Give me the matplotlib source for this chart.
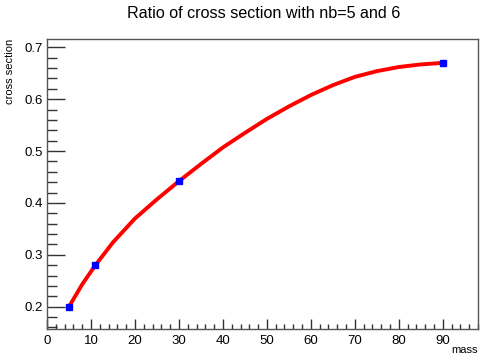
import matplotlib
matplotlib.use("Agg")
import matplotlib.pyplot as plt
from matplotlib.ticker import MultipleLocator

plt.rcParams['font.family'] = ['Liberation Sans', 'DejaVu Sans']

# Measured ratio points
mass_pts = [5, 11, 30, 90]
ratio_pts = [0.200, 0.280, 0.442, 0.670]

# Smooth curve through the measurements
mass_curve = [5, 8, 11, 15, 20, 25, 30, 35, 40, 45, 50, 55, 60, 65, 70, 75, 80, 85, 90]
ratio_curve = [0.200, 0.243, 0.280, 0.324, 0.370, 0.407, 0.442, 0.475, 0.507,
               0.535, 0.562, 0.586, 0.608, 0.627, 0.643, 0.654, 0.662, 0.667, 0.670]

fig = plt.figure(figsize=(4.81, 3.56), dpi=100)
ax = fig.add_axes([47/481, 27/356, 431/481, 290/356])

ax.plot(mass_curve, ratio_curve, color='#ff0000', lw=2.8, solid_capstyle='round', zorder=2)
ax.plot(mass_pts, ratio_pts, 's', color='#0000ff', ms=5, zorder=3, linestyle='none')

ax.set_xlim(0, 98)
ax.set_ylim(0.157, 0.716)

ax.xaxis.set_major_locator(MultipleLocator(10))
ax.xaxis.set_minor_locator(MultipleLocator(2))
ax.yaxis.set_major_locator(MultipleLocator(0.1))
ax.yaxis.set_minor_locator(MultipleLocator(0.02))
ax.set_xticks(range(0, 100, 10))
ax.set_xticklabels([str(v) for v in range(0, 100, 10)])
ax.set_yticks([0.2, 0.3, 0.4, 0.5, 0.6, 0.7])
ax.set_yticklabels(['0.2', '0.3', '0.4', '0.5', '0.6', '0.7'])

ax.tick_params(axis='x', which='major', direction='in', length=7, width=1, labelsize=9.5, pad=4, color='#333333')
ax.tick_params(axis='x', which='minor', direction='in', length=3.5, width=1, color='#333333')
ax.tick_params(axis='y', which='major', direction='in', length=13, width=1, labelsize=9.5, pad=3, color='#333333')
ax.tick_params(axis='y', which='minor', direction='in', length=7, width=1, color='#333333')
ax.tick_params(top=False, right=False, which='both')

for s in ax.spines.values():
    s.set_color('#555555')
    s.set_linewidth(1)

fig.text(0.548, 1 - 14/356, 'Ratio of cross section with nb=5 and 6', ha='center', va='center', fontsize=11.6)
fig.text(478/481, 1 - 350/356, 'mass', ha='right', va='center', fontsize=8)
fig.text(10/481, 1 - 71/356, 'cross section', ha='center', va='center', fontsize=8, rotation=90)

fig.savefig('out.png', dpi=100)
